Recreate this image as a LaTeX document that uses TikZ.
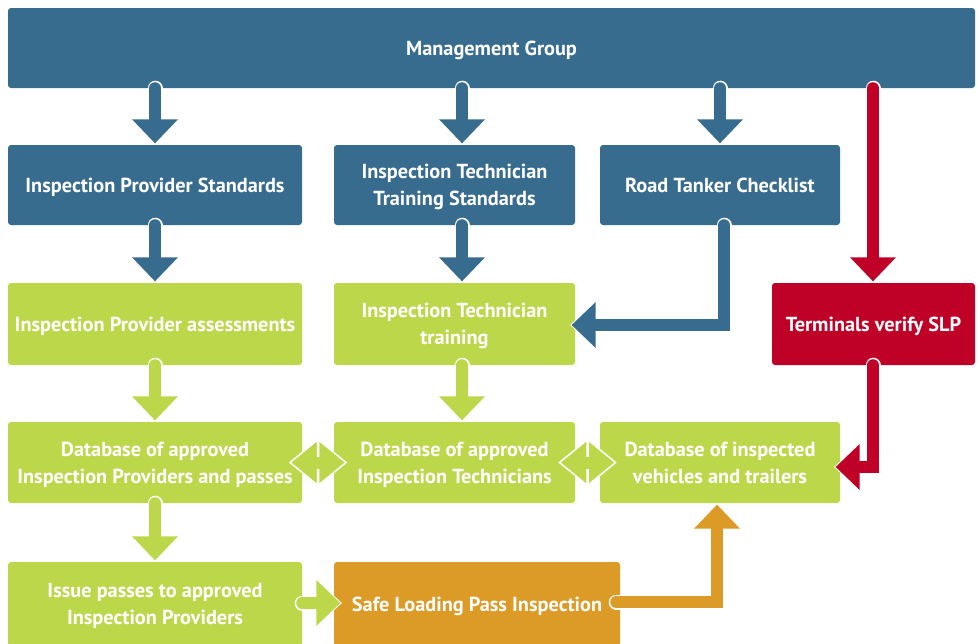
\documentclass[tikz,border=0pt]{standalone}
\usepackage{fontspec}
\setmainfont{PT Sans}
\usetikzlibrary{arrows.meta,calc}
\definecolor{cblue}{RGB}{55,108,143}
\definecolor{cgreen}{RGB}{189,215,75}
\definecolor{cred}{RGB}{191,0,39}
\definecolor{corange}{RGB}{220,154,38}
\begin{document}
\begin{tikzpicture}[x=1pt,y=-1pt,
  box/.style={rounded corners=3pt, inner sep=0pt, text=white, align=center,
    text depth=-5pt, font=\bfseries\fontsize{20.3}{27}\selectfont},
  flow/.style={line width=12pt, draw=#1, line cap=round,
    -{Triangle[width=46pt,length=24pt,line width=0pt,color=#1]}, shorten >=1.5pt,
    preaction={draw=white, line width=15pt, line cap=round, shorten >=0pt,
      -{Triangle[width=51pt,length=27pt,line width=0pt,color=white]}}},
  dhead/.style={fill=cgreen, draw=white, line width=1.5pt, line join=miter}]
\useasboundingbox (0,0) rectangle (980,643);
\clip (0,0) rectangle (980,643);
% boxes
\node[box, fill=cblue, minimum width=967pt, minimum height=80pt] (mg) at (491.5,48) {Management Group};
\node[box, fill=cblue, minimum width=294pt, minimum height=80pt] (ips) at (155,185) {Inspection Provider Standards};
\node[box, fill=cblue, minimum width=241pt, minimum height=80pt] (itts) at (454.5,185) {Inspection Technician\\Training Standards};
\node[box, fill=cblue, minimum width=240pt, minimum height=80pt] (rtc) at (720,185) {Road Tanker Checklist};
\node[box, fill=cgreen, minimum width=294pt, minimum height=82pt] (ipa) at (155,324) {Inspection Provider assessments};
\node[box, fill=cgreen, minimum width=241pt, minimum height=82pt] (itt) at (454.5,324) {Inspection Technician\\training};
\node[box, fill=cred, minimum width=203pt, minimum height=82pt] (tv) at (873.5,324) {Terminals verify SLP};
\node[box, fill=cgreen, minimum width=294pt, minimum height=81pt] (dbp) at (155,462.5) {Database of approved\\Inspection Providers and passes};
\node[box, fill=cgreen, minimum width=241pt, minimum height=81pt] (dbt) at (454.5,462.5) {Database of approved\\Inspection Technicians};
\node[box, fill=cgreen, minimum width=240pt, minimum height=81pt] (dbv) at (720,462.5) {Database of inspected\\vehicles and trailers};
\node[box, fill=cgreen, minimum width=294pt, minimum height=84pt] (ip) at (155,604) {Issue passes to approved\\Inspection Providers};
\node[box, fill=corange, minimum width=286pt, minimum height=84pt] (slp) at (477,604) {Safe Loading Pass Inspection};
% columns
\coordinate (colA) at (155,0);
\coordinate (colB) at (462,0);
\coordinate (colC) at (720,0);
\coordinate (colD) at (724,0);
\coordinate (colE) at (873,0);
% vertical flows
\draw[flow=cblue] (mg.south -| colA) -- (ips.north -| colA);
\draw[flow=cblue] (mg.south -| colB) -- (itts.north -| colB);
\draw[flow=cblue] (mg.south -| colC) -- (rtc.north -| colC);
\draw[flow=cblue] (ips.south -| colA) -- (ipa.north -| colA);
\draw[flow=cblue] (itts.south -| colB) -- (itt.north -| colB);
\draw[flow=cgreen] (ipa.south -| colA) -- (dbp.north -| colA);
\draw[flow=cgreen] (itt.south -| colB) -- (dbt.north -| colB);
\draw[flow=cgreen] (dbp.south -| colA) -- (ip.north -| colA);
% bent flows
\draw[flow=cblue] (rtc.south -| colD) |- ($(itt.east)+(-5,1)$);
\draw[flow=cred] (mg.south -| colE) -- (tv.north -| colE);
\draw[flow=cred] (tv.south -| colE) |- ($(dbv.east)+(-6,4.5)$);
\draw[flow=corange] ($(slp.east)+(-4,-2)$) -| ($(dbv.south)+(-3,0)$);
\draw[flow=cgreen] ($(ip.east)+(0,-1)$) -- ($(slp.west)+(8,-1)$);
% double arrows between databases
\coordinate (d1) at ($(dbp.east)!0.5!(dbt.west)$);
\coordinate (d2) at ($(dbt.east)!0.5!(dbv.west)$);
\foreach \d in {d1,d2}{
  \path[dhead] ($(\d)+(-0.5,-22.5)$) -- ($(\d)+(-28,0)$) -- ($(\d)+(-0.5,22.5)$) -- cycle;
  \path[dhead] ($(\d)+(0.5,-22.5)$) -- ($(\d)+(28,0)$) -- ($(\d)+(0.5,22.5)$) -- cycle;
  \fill[cgreen] ($(\d)+(-3,-6)$) rectangle ($(\d)+(3,6)$);
}
\end{tikzpicture}
\end{document}
